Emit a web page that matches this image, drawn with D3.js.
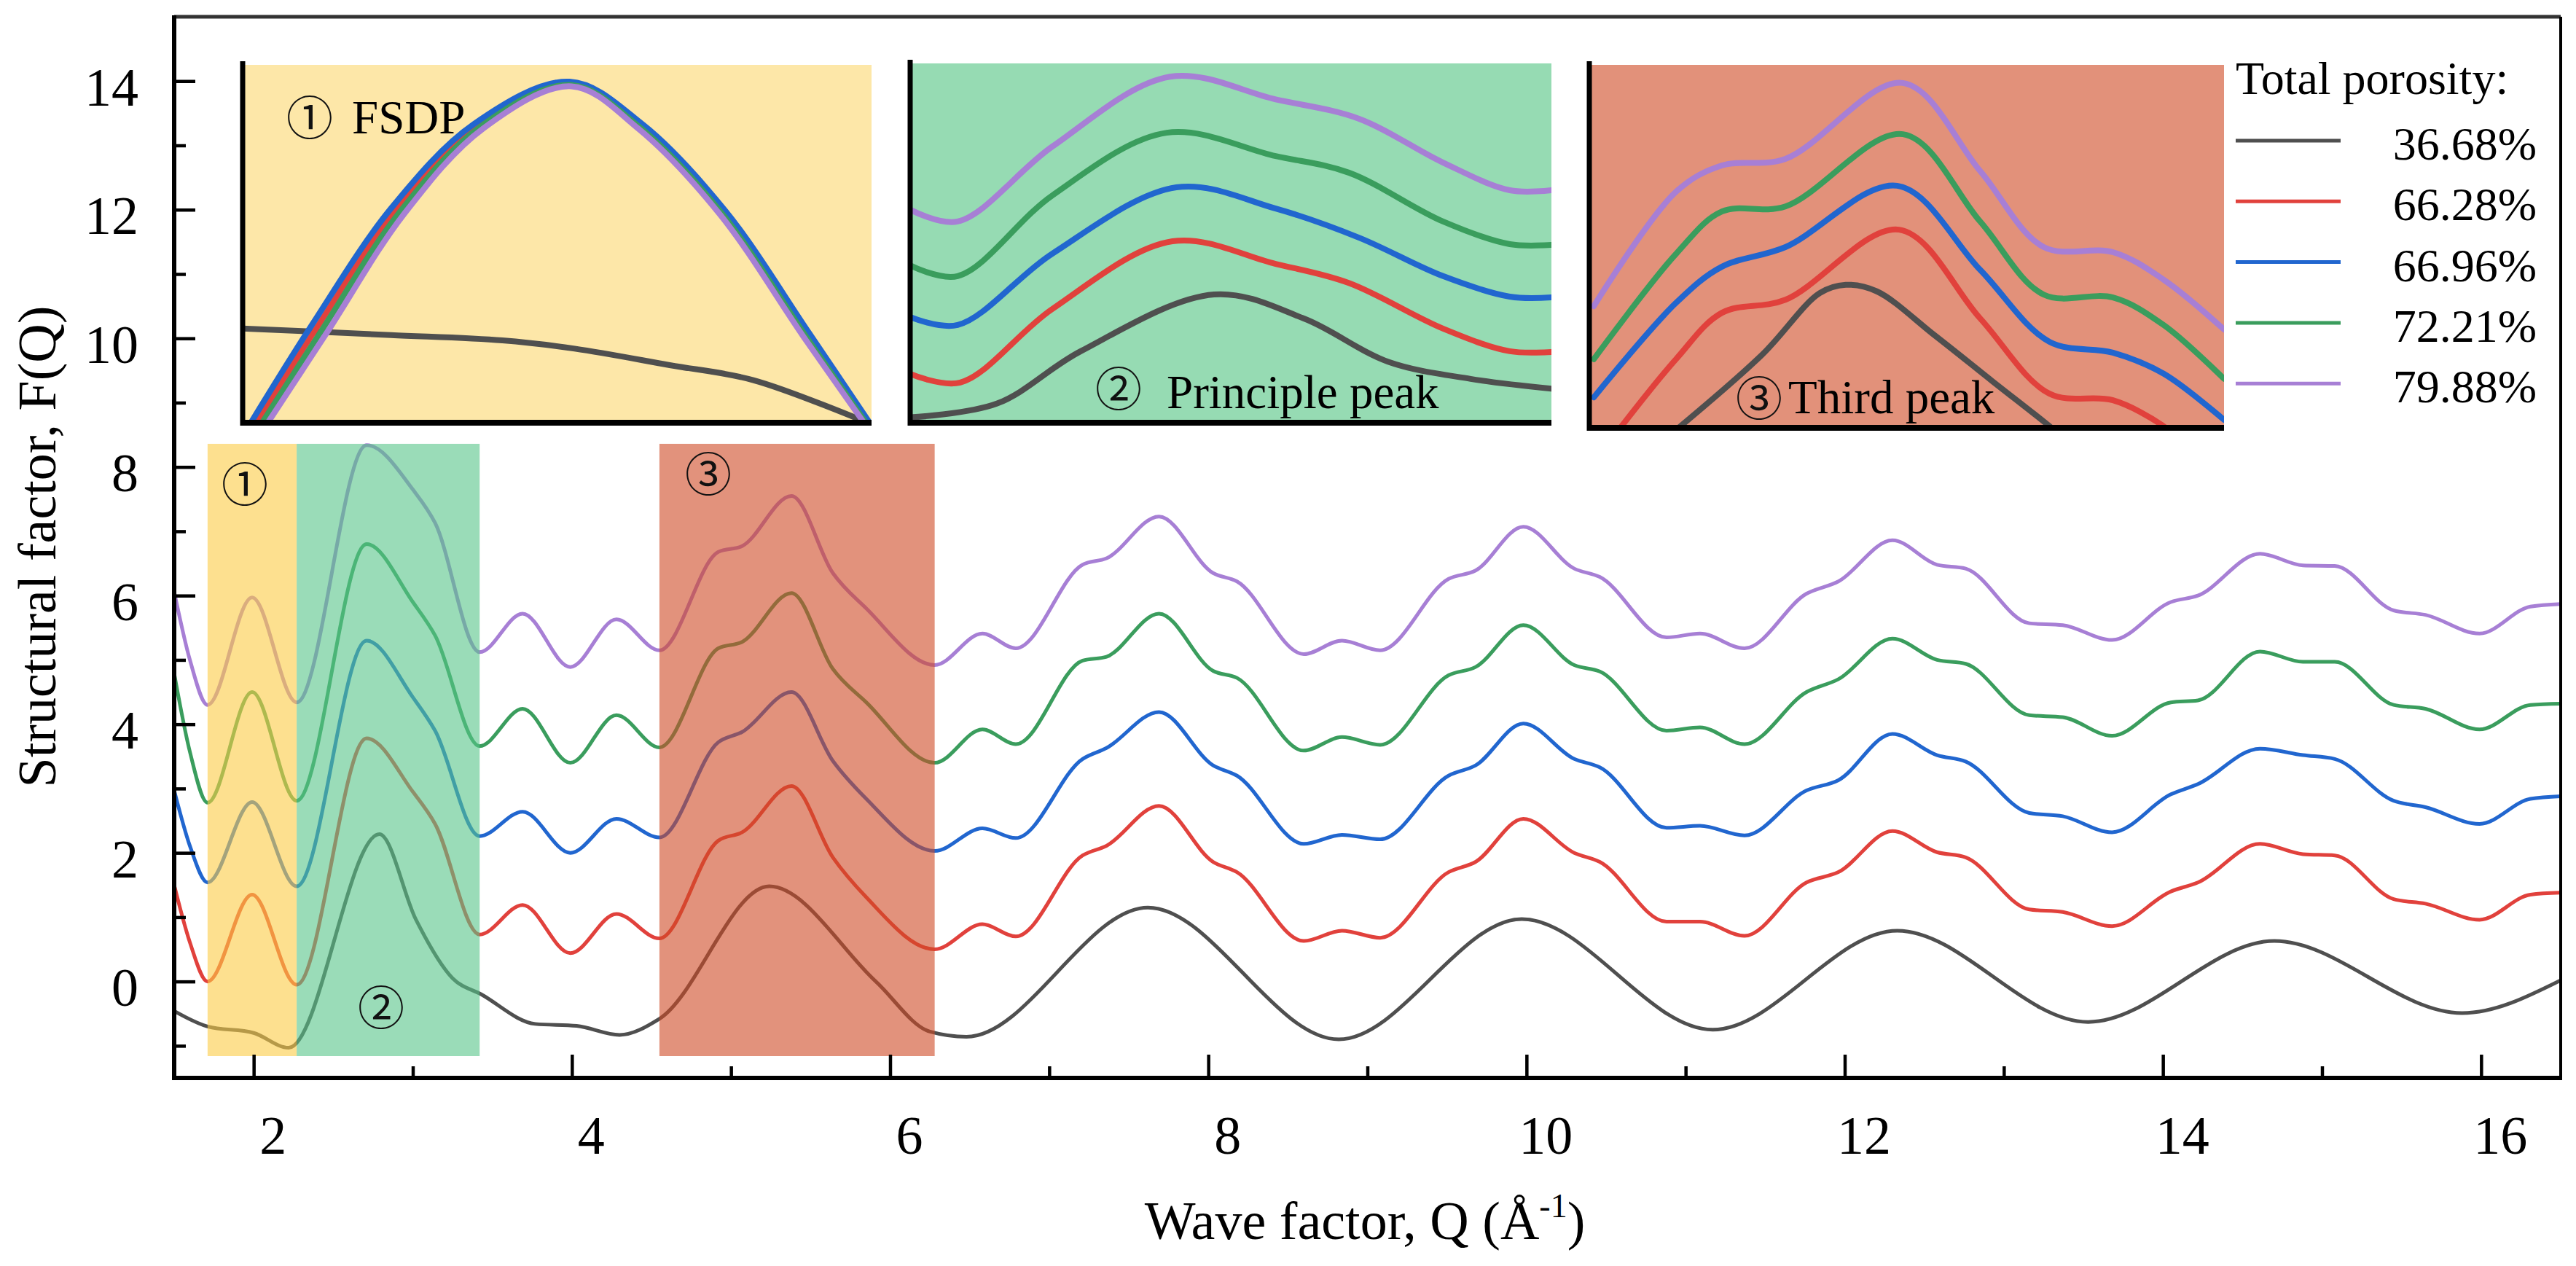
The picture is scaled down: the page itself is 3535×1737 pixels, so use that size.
<!DOCTYPE html>
<html lang="en">
<head>
    <title>Structural factor F(Q) - total porosity</title>
    <meta charset="UTF-8">
    <script src="https://cdn.jsdelivr.net/npm/d3@7"></script>
    <style>
        body { margin: 0; background: #fff; }
        svg { display: block; }
    </style>
</head>
<body>
<div id="chart"></div>
<script type="text/javascript">

    // ---- values ----
    var porosity = ['36.68%', '66.28%', '66.96%', '72.21%', '79.88%'];
    var colors = ['#4f4f4f', '#e1413c', '#2166cf', '#3a9d5d', '#a77fd5'];

    // knots shared by the four porous samples
    var qKnots = [1.50, 1.60, 1.71, 1.99, 2.27, 2.71, 3.00, 3.14, 3.42, 3.69, 3.99, 4.28, 4.55, 4.92, 5.07, 5.38, 5.64, 5.85,
        6.28, 6.58, 6.79, 7.21, 7.36, 7.69, 8.03, 8.18, 8.60, 8.84, 9.08, 9.51, 9.68, 9.98, 10.30, 10.46, 10.88, 11.09, 11.37,
        11.76, 11.96, 12.30, 12.58, 12.76, 13.16, 13.37, 13.68, 14.05, 14.22, 14.61, 14.88, 15.08, 15.45, 15.65, 15.99, 16.31, 16.50];
    var fRed = [1.50, 0.60, 0.00, 1.35, -0.05, 3.78, 2.95, 2.45, 0.73, 1.19, 0.44, 1.05, 0.67, 2.19, 2.32, 3.04, 1.93, 1.31,
        0.50, 0.89, 0.70, 1.96, 2.11, 2.73, 1.86, 1.70, 0.63, 0.79, 0.68, 1.70, 1.86, 2.53, 2.00, 1.86, 0.93, 0.93, 0.71,
        1.54, 1.70, 2.34, 2.01, 1.93, 1.12, 1.08, 0.86, 1.40, 1.54, 2.14, 1.98, 1.96, 1.28, 1.21, 0.96, 1.35, 1.38];
    var fBlue = [2.97, 2.10, 1.54, 2.79, 1.48, 5.30, 4.42, 3.90, 2.26, 2.64, 2.00, 2.53, 2.24, 3.72, 3.88, 4.50, 3.43, 2.84,
        2.03, 2.38, 2.23, 3.46, 3.63, 4.19, 3.36, 3.20, 2.14, 2.28, 2.21, 3.20, 3.36, 4.01, 3.46, 3.33, 2.39, 2.42, 2.27,
        2.97, 3.13, 3.85, 3.52, 3.42, 2.62, 2.57, 2.32, 2.91, 3.07, 3.62, 3.52, 3.46, 2.81, 2.71, 2.45, 2.84, 2.88];
    var fGreen = [4.79, 3.56, 2.78, 4.50, 2.81, 6.80, 5.90, 5.38, 3.66, 4.24, 3.40, 4.14, 3.64, 5.18, 5.28, 6.04, 4.86, 4.34,
        3.40, 3.92, 3.69, 4.99, 5.05, 5.72, 4.83, 4.72, 3.59, 3.80, 3.68, 4.76, 4.89, 5.54, 4.92, 4.82, 3.90, 3.95, 3.69,
        4.50, 4.70, 5.33, 5.00, 4.94, 4.14, 4.11, 3.82, 4.34, 4.37, 5.13, 4.97, 4.97, 4.30, 4.24, 3.92, 4.30, 4.32];
    var fPurple = [6.06, 4.99, 4.30, 5.97, 4.34, 8.34, 7.65, 7.13, 5.12, 5.72, 4.89, 5.63, 5.15, 6.68, 6.77, 7.55, 6.35, 5.80,
        4.92, 5.41, 5.18, 6.48, 6.58, 7.23, 6.35, 6.22, 5.09, 5.30, 5.15, 6.26, 6.39, 7.07, 6.42, 6.29, 5.35, 5.41, 5.18,
        6.03, 6.22, 6.86, 6.48, 6.42, 5.57, 5.54, 5.31, 5.90, 6.00, 6.65, 6.47, 6.46, 5.77, 5.70, 5.41, 5.83, 5.87];

    // the dense sample has its own knots
    var blackQF = [[1.50, -0.46], [1.71, -0.70], [2.00, -0.80], [2.22, -1.03], [2.79, 2.29], [3.02, 0.96], [3.25, 0.05],
        [3.43, -0.20], [3.77, -0.66], [4.03, -0.69], [4.30, -0.83], [4.55, -0.58], [5.24, 1.48], [5.91, 0.00], [6.25, -0.78],
        [6.48, -0.86], [7.62, 1.15], [8.82, -0.90], [9.97, 0.97], [11.17, -0.75], [12.33, 0.79], [13.53, -0.63],
        [14.70, 0.63], [15.88, -0.49], [16.50, 0.02]];

    var xMajor = [2, 4, 6, 8, 10, 12, 14, 16];
    var xMinor = [3, 5, 7, 9, 11, 13, 15];
    var yMajor = [0, 2, 4, 6, 8, 10, 12, 14];
    var yMinor = [-1, 1, 3, 5, 7, 9, 11, 13];

    // highlighted Q ranges: FSDP, principle peak, third peak
    var regionQ = [[1.71, 2.27], [2.27, 3.42], [4.55, 6.28]];
    var regionF = [-1.16, 8.36];
    var regionMarks = ['\u2460', '\u2461', '\u2462'];

    // inset curves, normalised to each inset box (u across, w up)
    var fsdpCurves = [
        [[0, 0.263], [0.236, 0.245], [0.413, 0.230], [0.528, 0.207], [0.679, 0.161], [0.812, 0.119], [0.994, 0.0]],
        [[0.022, 0], [0.118, 0.266], [0.243, 0.594], [0.373, 0.831], [0.521, 0.948], [0.633, 0.830], [0.765, 0.588], [0.898, 0.246], [0.994, 0]],
        [[0.013, 0], [0.110, 0.273], [0.236, 0.599], [0.368, 0.835], [0.520, 0.953], [0.635, 0.835], [0.768, 0.591], [0.901, 0.250], [0.997, 0]],
        [[0.031, 0], [0.126, 0.259], [0.250, 0.589], [0.378, 0.827], [0.522, 0.944], [0.631, 0.826], [0.762, 0.585], [0.895, 0.243], [0.991, 0]],
        [[0.040, 0], [0.134, 0.252], [0.257, 0.584], [0.383, 0.823], [0.523, 0.940], [0.629, 0.822], [0.759, 0.582], [0.892, 0.240], [0.988, 0]]
    ];
    var principleCurves = [
        [[0, 0.015], [0.135, 0.053], [0.266, 0.199], [0.474, 0.357], [0.614, 0.290], [0.745, 0.170], [0.874, 0.122], [1.0, 0.095]],
        [[0, 0.136], [0.078, 0.112], [0.222, 0.317], [0.409, 0.505], [0.570, 0.442], [0.684, 0.389], [0.831, 0.262], [0.935, 0.199], [1.0, 0.197]],
        [[0, 0.294], [0.074, 0.272], [0.222, 0.471], [0.415, 0.655], [0.570, 0.596], [0.700, 0.515], [0.831, 0.408], [0.935, 0.351], [1.0, 0.349]],
        [[0, 0.438], [0.074, 0.408], [0.222, 0.633], [0.400, 0.807], [0.570, 0.742], [0.684, 0.696], [0.831, 0.560], [0.935, 0.497], [1.0, 0.495]],
        [[0, 0.593], [0.074, 0.560], [0.222, 0.769], [0.405, 0.963], [0.570, 0.900], [0.700, 0.846], [0.831, 0.724], [0.935, 0.647], [1.0, 0.647]]
    ];
    var thirdCurves = [
        [[0.12, -0.03], [0.272, 0.201], [0.363, 0.371], [0.404, 0.394], [0.453, 0.376], [0.544, 0.255], [0.634, 0.130], [0.728, 0.0], [0.74, -0.02]],
        [[0.04, -0.02], [0.137, 0.19], [0.209, 0.317], [0.309, 0.353], [0.488, 0.546], [0.616, 0.301], [0.725, 0.094], [0.825, 0.076], [0.902, 0.008], [0.92, -0.02]],
        [[0.007, 0.084], [0.137, 0.345], [0.209, 0.444], [0.309, 0.498], [0.485, 0.667], [0.616, 0.435], [0.725, 0.237], [0.825, 0.207], [0.905, 0.149], [1.0, 0.022]],
        [[0.007, 0.189], [0.137, 0.480], [0.209, 0.596], [0.309, 0.610], [0.494, 0.809], [0.616, 0.568], [0.716, 0.367], [0.825, 0.359], [0.905, 0.283], [1.0, 0.135]],
        [[0.007, 0.335], [0.137, 0.651], [0.209, 0.723], [0.309, 0.741], [0.494, 0.950], [0.616, 0.707], [0.716, 0.498], [0.825, 0.484], [0.905, 0.408], [1.0, 0.271]]
    ];

    // ---- layout ----
    var width = 3535, height = 1737;
    var serif = '"Liberation Serif", "Times New Roman", serif';
    var cjk = '"Noto Sans CJK JP", "Noto Sans CJK SC", sans-serif';

    var svg = d3.select('#chart').append('svg')
        .attr('width', width)
        .attr('height', height)
        .attr('font-family', serif);

    var x = d3.scaleLinear().domain([1.5, 16.5]).range([239, 3514]);
    var y = d3.scaleLinear().domain([-1.5, 15]).range([1479, 23]);

    var line = d3.line()
        .x(function (d) { return x(d[0]); })
        .y(function (d) { return y(d[1]); })
        .curve(d3.curveMonotoneX);

    var mainSeries = [
        blackQF,
        qKnots.map(function (q, i) { return [q, fRed[i]]; }),
        qKnots.map(function (q, i) { return [q, fBlue[i]]; }),
        qKnots.map(function (q, i) { return [q, fGreen[i]]; }),
        qKnots.map(function (q, i) { return [q, fPurple[i]]; })
    ];

    svg.append('clipPath').attr('id', 'plot-clip')
        .append('rect')
        .attr('x', x(1.5)).attr('y', y(15))
        .attr('width', x(16.5) - x(1.5)).attr('height', y(-1.5) - y(15));

    svg.append('g').attr('clip-path', 'url(#plot-clip)')
        .selectAll('path')
        .data(mainSeries)
        .join('path')
        .attr('d', line)
        .attr('fill', 'none')
        .attr('stroke', function (d, i) { return colors[i]; })
        .attr('stroke-width', 5)
        .attr('stroke-linejoin', 'round');

    // translucent bands over the curves
    var bandFill = ['#fccb44', '#57c589', '#cf4a24'];
    svg.append('g').selectAll('rect')
        .data(regionQ)
        .join('rect')
        .attr('x', function (d) { return x(d[0]); })
        .attr('width', function (d) { return x(d[1]) - x(d[0]); })
        .attr('y', y(regionF[1]))
        .attr('height', y(regionF[0]) - y(regionF[1]))
        .attr('fill', function (d, i) { return bandFill[i]; })
        .attr('fill-opacity', 0.6);

    // circled numbers in the bands
    var markPos = [[336, 660], [523, 1378], [972, 646]];
    svg.append('g').selectAll('text')
        .data(regionMarks)
        .join('text')
        .attr('x', function (d, i) { return markPos[i][0]; })
        .attr('y', function (d, i) { return markPos[i][1]; })
        .attr('text-anchor', 'middle')
        .attr('dominant-baseline', 'central')
        .attr('font-family', cjk)
        .attr('font-size', 64)
        .attr('fill', '#111')
        .text(function (d) { return d; });

    // ---- axes ----
    function styleTicks(g, w) {
        g.select('.domain').remove();
        g.selectAll('.tick line').attr('stroke', '#000').attr('stroke-width', w);
    }

    var gx = svg.append('g').attr('transform', 'translate(0,' + y(-1.5) + ')')
        .call(d3.axisBottom(x).tickValues(xMajor).tickSize(-32).tickSizeOuter(0))
        .call(styleTicks, 4.5)
        .attr('font-family', serif)
        .attr('font-size', 74);
    gx.selectAll('text').attr('y', 104).attr('dy', null).attr('dx', 26).attr('fill', '#000');

    svg.append('g').attr('transform', 'translate(0,' + y(-1.5) + ')')
        .call(d3.axisBottom(x).tickValues(xMinor).tickSize(-16).tickSizeOuter(0).tickFormat(''))
        .call(styleTicks, 4.5);

    var gy = svg.append('g').attr('transform', 'translate(' + x(1.5) + ',0)')
        .call(d3.axisLeft(y).tickValues(yMajor).tickSize(-29).tickSizeOuter(0))
        .call(styleTicks, 4.5)
        .attr('font-family', serif)
        .attr('font-size', 74);
    gy.selectAll('text').attr('x', -49).attr('dy', null).attr('y', 33).attr('fill', '#000');

    svg.append('g').attr('transform', 'translate(' + x(1.5) + ',0)')
        .call(d3.axisLeft(y).tickValues(yMinor).tickSize(-16).tickSizeOuter(0).tickFormat(''))
        .call(styleTicks, 4.5);

    // frame
    var frame = svg.append('g').attr('fill', 'none');
    frame.append('line').attr('x1', x(1.5)).attr('x2', x(16.5)).attr('y1', y(15)).attr('y2', y(15))
        .attr('stroke', '#333').attr('stroke-width', 5);
    frame.append('line').attr('x1', x(16.5)).attr('x2', x(16.5)).attr('y1', y(15)).attr('y2', y(-1.5))
        .attr('stroke', '#000').attr('stroke-width', 4);
    frame.append('line').attr('x1', x(1.5)).attr('x2', x(1.5)).attr('y1', y(15) - 2).attr('y2', y(-1.5) + 3)
        .attr('stroke', '#000').attr('stroke-width', 6);
    frame.append('line').attr('x1', x(1.5) - 3).attr('x2', x(16.5) + 2).attr('y1', y(-1.5)).attr('y2', y(-1.5))
        .attr('stroke', '#000').attr('stroke-width', 6);

    svg.append('text')
        .attr('x', 1873).attr('y', 1700)
        .attr('text-anchor', 'middle')
        .attr('font-family', serif)
        .attr('font-size', 74)
        .call(function (t) {
            t.append('tspan').text('Wave factor, Q (\u00c5');
            t.append('tspan').attr('dy', -30).attr('font-size', 46).text('-1');
            t.append('tspan').attr('dy', 30).text(')');
        });

    svg.append('text')
        .attr('transform', 'translate(76,750) rotate(-90)')
        .attr('text-anchor', 'middle')
        .attr('font-family', serif)
        .attr('font-size', 74)
        .text('Structural factor, F(Q)');

    // ---- insets ----
    var insets = [
        {box: [333, 1196, 89, 580], fill: '#fde7a8', curves: fsdpCurves,
            mark: '\u2460', markAt: [425, 157], label: 'FSDP', labelAt: [483, 183]},
        {box: [1249, 2129, 87, 580], fill: '#96dbb3', curves: principleCurves,
            mark: '\u2461', markAt: [1535, 529], label: 'Principle peak', labelAt: [1601, 560]},
        {box: [2181, 3052, 89, 587], fill: '#e2917a', curves: thirdCurves,
            mark: '\u2462', markAt: [2414, 542], label: 'Third peak', labelAt: [2454, 567]}
    ];

    insets.forEach(function (ins, k) {
        var b = ins.box;
        var ix = d3.scaleLinear().domain([0, 1]).range([b[0], b[1]]);
        var iy = d3.scaleLinear().domain([0, 1]).range([b[3], b[2]]);
        var g = svg.append('g');

        g.append('rect')
            .attr('x', b[0]).attr('y', b[2])
            .attr('width', b[1] - b[0]).attr('height', b[3] - b[2])
            .attr('fill', ins.fill);

        g.append('clipPath').attr('id', 'inset-clip-' + k)
            .append('rect')
            .attr('x', b[0]).attr('y', b[2])
            .attr('width', b[1] - b[0]).attr('height', b[3] - b[2]);

        var iline = d3.line()
            .x(function (d) { return ix(d[0]); })
            .y(function (d) { return iy(d[1]); })
            .curve(d3.curveCatmullRom.alpha(0.5));

        g.append('g').attr('clip-path', 'url(#inset-clip-' + k + ')')
            .selectAll('path')
            .data(ins.curves)
            .join('path')
            .attr('d', iline)
            .attr('fill', 'none')
            .attr('stroke', function (d, i) { return colors[i]; })
            .attr('stroke-width', 8)
            .attr('stroke-linecap', 'round');

        g.append('line').attr('x1', b[0]).attr('x2', b[0]).attr('y1', b[2] - 5).attr('y2', b[3] + 4)
            .attr('stroke', '#000').attr('stroke-width', 7);
        g.append('line').attr('x1', b[0] - 3).attr('x2', b[1]).attr('y1', b[3]).attr('y2', b[3])
            .attr('stroke', '#000').attr('stroke-width', 8);

        g.append('text')
            .attr('x', ins.markAt[0]).attr('y', ins.markAt[1])
            .attr('text-anchor', 'middle')
            .attr('dominant-baseline', 'central')
            .attr('font-family', cjk)
            .attr('font-size', 64)
            .attr('fill', '#111')
            .text(ins.mark);
        g.append('text')
            .attr('x', ins.labelAt[0]).attr('y', ins.labelAt[1])
            .attr('font-family', serif)
            .attr('font-size', 65)
            .attr('fill', '#000')
            .text(ins.label);
    });

    // ---- legend ----
    var legend = svg.append('g').attr('font-family', serif);
    legend.append('text')
        .attr('x', 3068).attr('y', 129)
        .attr('font-size', 64)
        .text('Total porosity:');

    var item = legend.selectAll('g.item')
        .data(porosity)
        .join('g')
        .attr('class', 'item')
        .attr('transform', function (d, i) { return 'translate(0,' + (193 + i * 83.3) + ')'; });
    item.append('line')
        .attr('x1', 3068).attr('x2', 3212)
        .attr('stroke', function (d, i) { return colors[i]; })
        .attr('stroke-width', 5);
    item.append('text')
        .attr('x', 3481).attr('y', 26)
        .attr('text-anchor', 'end')
        .attr('font-size', 64)
        .text(function (d) { return d; });

</script>
</body>
</html>
